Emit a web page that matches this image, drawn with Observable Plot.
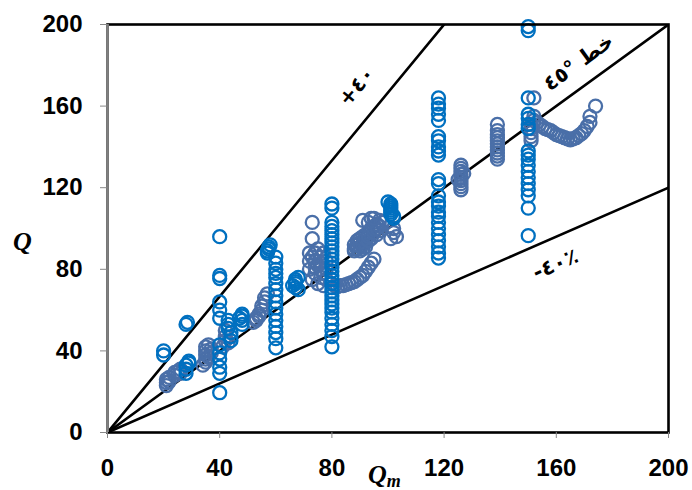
<!DOCTYPE html>
<html>
<head>
<meta charset="utf-8">
<script src="https://cdn.jsdelivr.net/npm/d3@7"></script>
<script src="https://cdn.jsdelivr.net/npm/@observablehq/plot@0.6"></script>
<style>
  html, body { margin: 0; padding: 0; background: #fff; }
  #chart svg { display: block; overflow: visible; }
</style>
</head>
<body>
<div id="chart"></div>
<script>
// Tick labels
const xTicks = [0, 40, 80, 120, 160, 200];
const yTicks = [0, 40, 80, 120, 160, 200];

// Observed series (bright blue) [Qm, Q]
const observed = [
  [20,38],[20,40],
  [28,29],[28,31],[28,33],[29,35],[29,34],
  [28,53],[28.5,54],
  [40,96],[40,77],[40,75.5],[40,64],[40,60],[40,56],[40,43],[40,39],[40,36],[40,32],[40,29],[40,19.5],
  [43,55],[43,53],[43,51],[44,49],[44,47],[44,45],
  [47,56],[48,53],[48,55],[48,57],[48,58],
  [57,88],[57,89],[57.5,90],[57.5,91],[58,92],
  [60,86],[60,83],[60,80],[60,78],[60,76],[60,73],[60,70],[60,67],[60,64],[60,61],[60,58],[60,55],[60,52],[60,49],[60,46],[60,41.5],
  [66,72],[67,73],[67,74],[67,75],[68,76],[67,71],[68,70],
  [80,112],[80,110],[80,103],[80,101],[80,99],[80,97],[80,95],[80,93],[80,91],[80,89],[80,87],[80,85],[80,83],[80,81],[80,79],[80,77],[80,75],[80,73],[80,71],[80,69],[80,67],[80,65],[80,63],[80,61],[80,59],[80,56],[80,53],[80,50],[80,47],[80,42],
  [100,113],[101,112],[101,111],[101,110],[101,109],[101,108],[101,107],[102,106],[102,105],
  [118,164],[118,161],[118,159],[118,156],[118,153],[118,145],[118,143],[118,140],[118,138],[118,136],[118,124],[118,122],
  [118,116],[118,113],[118,111],[118,108],[118,106],[118,103],[118,100],[118,97],[118,94],[118,91],[118,88],[118,85.5],
  [150,199],[150,197],[150,164],[150,156],[150,154],[150,151],[150,149],[150,138],[150,136],[150,134],[150,131],[150,128],[150,125],[150,122],[150,119],[150,116],[150,110],[150,96.5]
];

// Model series (steel blue) [Qm, Q]
const model = [
  [21,23],[21,24.5],[21,26],[22,27],[22,25],
  [24,28],[24,29.5],[25,30],[26,31],[26,29],
  [34,33],[35,34.5],[35,36],[35,38],[35,40],[35,42],[36,43],[36,37],[37,39],[37,41],
  [42,50],[42,47],[43,44],[41,42],[42,45],
  [52,54],[53,55],[53,56],[54,57],[54,58],[55,60],[55,62],[56,64],[56,66],[57,68],
  [72,88],[73,86],[74,84],[75,82],[76,80],[77,78],[72,80],[74,78],[76,76],[78,75],[73,75],[75,73],[77,72],[73,103],[73,95],[75,90],[77,88],
  [72,84],[74,88],[76,86],[78,84],[78,80],[74,81],[76,83],
  [81,72],[82,71.5],[83,72],[84,72],[85,72.5],[86,73],[87,73.5],[88,74],[89,75],[90,76],[91,77],[92,79],[93,81],[94,83],[95,85],
  [88,89],[88,92],[89,94],[90,91],[90,95],[91,96],[92,93],[92,97],[93,98],[94,95],[94,100],[95,101],[96,97],[96,102],[97,99],[91,104],[94,105],[97,104],
  [88,90],[89,90],[89,92],[90,89],[90,93],[91,90],[91,92],[92,91],[92,95],[93,94],[93,96],[95,98],[96,100],[97,101],[98,103],[93,103],[95,105],
  [102,100],[102,98],[103,96],[101,95],
  [126,119],[126,120.5],[126,122],[126,123.5],[126,125],[126,126.5],[126,128],[126,129.5],[126,131],[125,124],[127,127],
  [139,134],[139,135.5],[139,137],[139,138.5],[139,140],[139,141.5],[139,143],[139,144.5],[139,146],[139,148],[139,151],
  [151,143],[151,145],[151,147],[151,149],[151,151],[152,153],[152,155],[152,164],
  [153,152],[154,151],[155,150],[156,149],[157,148.5],[158,148],[159,147],[160,146],[161,145.5],[162,145],[163,144.5],[164,144],[165,143.5],[166,144],[167,144.5],[168,145.5],[169,146.5],[170,148],[171,150],[172,152],[172,155],[174,160]
];

// Reference lines: Q = k * Qm
const refSlopes = [1 / 0.6, 1, 0.6];
// Line labels: text, position (data units), rotation (deg)
const lineLabels = [
  {text: "+٤٠", x: 88.8, y: 169.6, angle: -50.5},
  {text: "٤٥°\u200E خط", x: 167.9, y: 181.4, angle: -36},
  {text: "-٤٠٪", x: 159.7, y: 82.4, angle: -23.6}
];

const lineData = refSlopes.flatMap((k, i) => [0, 200].map(q => ({id: i, x: q, y: k * q})));

const plot = Plot.plot({
  width: 692,
  height: 490,
  marginLeft: 107,
  marginRight: 24,
  marginTop: 24,
  marginBottom: 58,
  x: {domain: [0, 200]},
  y: {domain: [0, 200]},
  style: {fontFamily: "'Liberation Sans', Arial, sans-serif", fontSize: "24px", fontWeight: "bold", background: "#fff"},
  marks: [
    Plot.line(lineData, {x: "x", y: "y", z: "id", stroke: "black", strokeWidth: 2.6, clip: true}),
    Plot.dot(model, {x: d => d[0], y: d => d[1], r: 6.5, stroke: "#4A6FA8", strokeWidth: 2.3, fill: "none"}),
    Plot.dot(observed, {x: d => d[0], y: d => d[1], r: 6.5, stroke: "#0070C0", strokeWidth: 2.3, fill: "none"}),
    Plot.text(lineLabels, {x: "x", y: "y", text: "text", rotate: "angle", fontFamily: "'DejaVu Sans', sans-serif", fontWeight: "bold", fontSize: 21, fill: "black"}),
    Plot.frame({stroke: "black", strokeWidth: 2.6}),
    Plot.ruleX([0], {stroke: "#808080", strokeWidth: 2.8}),
    Plot.axisX({ticks: xTicks, tickSize: 6, tickPadding: 20, stroke: "#888", fill: "black", label: null}),
    Plot.axisY({ticks: yTicks, tickSize: 7, tickPadding: 18, stroke: "#888", fill: "black", label: null})
  ]
});

const svg = d3.select(plot);
svg.append("text")
  .attr("x", 13).attr("y", 250)
  .attr("text-anchor", "start")
  .attr("font-family", "'Liberation Serif', 'DejaVu Serif', serif")
  .attr("font-style", "italic").attr("font-weight", "bold")
  .attr("font-size", 26).attr("fill", "black")
  .text("Q");
const xt = svg.append("text")
  .attr("x", 368).attr("y", 483)
  .attr("text-anchor", "start")
  .attr("font-family", "'Liberation Serif', 'DejaVu Serif', serif")
  .attr("font-style", "italic").attr("font-weight", "bold")
  .attr("font-size", 26).attr("fill", "black");
xt.append("tspan").text("Q");
xt.append("tspan").attr("font-size", 18).attr("dy", 4).text("m");

document.getElementById("chart").appendChild(plot);
</script>
</body>
</html>
